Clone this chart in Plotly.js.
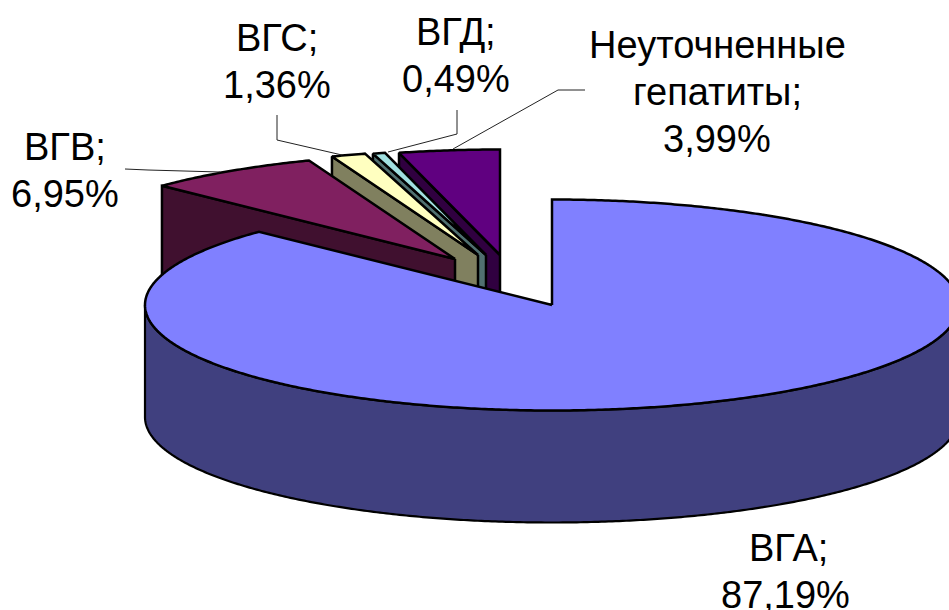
<!DOCTYPE html>
<html>
<head>
<meta charset="utf-8">
<script src="https://cdn.plot.ly/plotly-3.0.1.min.js"></script>
<style>html,body{margin:0;padding:0;background:#fff}#chart{width:949px;height:610px}</style>
</head>
<body>
<div id="chart"></div>
<script>
// Share of hepatitis cases by type, in the order the slices run clockwise from 12 o'clock.
const names = ['ВГА', 'ВГВ', 'ВГС', 'ВГД', 'Неуточненные гепатиты'];
const shares = [87.19, 6.95, 1.36, 0.49, 3.99];

const topColors = ['#8080FF', '#802060', '#FFFFC0', '#A0E0E0', '#600080'];
const sideColors = ['#40407F', '#40102F', '#80805F', '#507070', '#300040'];

// Slice apex on the page: the first slice stays put, the others are pulled out towards the upper left.
const apexX = [552, 455, 478, 486, 500];
const apexY = [305, 259, 255, 255, 255];

// Tilted disc proportions.
const radiusX = 407;
const radiusY = 105.5;
const depth = 112;

// Label lines as [slice index, line text or null for the value, x, y].
const labelLines = [
  [0, 'ВГА;', 788, 548], [0, null, 785, 595],
  [1, 'ВГВ;', 65, 147], [1, null, 65, 194],
  [2, 'ВГС;', 277, 38], [2, null, 277, 85],
  [3, 'ВГД;', 456, 32], [3, null, 456, 79],
  [4, 'Неуточненные', 717, 45], [4, 'гепатиты;', 717, 92], [4, null, 717, 139]
];

// Leader polylines from labels to slices.
const leaderX = [[125, 148, 220], [277, 277, 342], [457, 457, 388], [585, 558, 453]];
const leaderY = [[169, 170, 172], [115, 140, 155], [110, 134, 152], [90, 90, 149]];

const total = shares.reduce((a, b) => a + b, 0);
const toRad = d => d * Math.PI / 180;

// Point on a slice's rim for a clockwise angle measured from the top of the disc.
const rim = (i, deg, drop) => [
  apexX[i] + radiusX * Math.sin(toRad(deg)),
  apexY[i] - radiusY * Math.cos(toRad(deg)) + drop
];

function arc(i, from, to, drop) {
  const n = Math.max(2, Math.ceil(Math.abs(to - from) * 2));
  const pts = [];
  for (let k = 0; k <= n; k++) pts.push(rim(i, from + (to - from) * k / n, drop));
  return pts;
}

function face(pts, color, width) {
  return {
    type: 'scatter', mode: 'lines', hoverinfo: 'skip', showlegend: false,
    x: pts.map(p => p[0]), y: pts.map(p => p[1]),
    fill: 'toself', fillcolor: color,
    line: {color: '#000', width: width, simplify: false, shape: 'linear'}
  };
}

const angles = [];
let running = 0;
shares.forEach(v => {
  const start = running;
  running += v / total * 360;
  angles.push([start, running]);
});

// Far slices are painted first so that nearer ones cover them.
const traces = [];
[4, 3, 2, 1].forEach(i => {
  const [a, b] = angles[i];
  const apex = [apexX[i], apexY[i]];
  const p = rim(i, a, 0);
  traces.push(face([apex, p, [p[0], p[1] + depth], [apex[0], apex[1] + depth], apex], sideColors[i], 2.5));
  traces.push(face([apex, ...arc(i, a, b, 0), apex], topColors[i], 2.5));
});

// The large slice: its outer wall runs along the front half of the rim.
const outer = arc(0, 90, 270, 0);
const lower = arc(0, 270, 90, depth);
traces.push(face([...outer, ...lower, outer[0]], sideColors[0], 2.2));
const apex0 = [apexX[0], apexY[0]];
traces.push(face([apex0, ...arc(0, angles[0][0], angles[0][1], 0), apex0], topColors[0], 2.5));

leaderX.forEach((xs, k) => traces.push({
  type: 'scatter', mode: 'lines', hoverinfo: 'skip', showlegend: false,
  x: xs, y: leaderY[k], line: {color: '#222', width: 1}
}));

const annotations = labelLines.map(([i, text, x, y]) => ({
  x, y, xref: 'x', yref: 'y', showarrow: false, xanchor: 'center', yanchor: 'middle',
  text: text === null ? shares[i].toFixed(2).replace('.', ',') + '%' : text,
  font: {family: '"Liberation Sans", Arial, sans-serif', size: 38, color: '#000'}
}));

Plotly.newPlot('chart', traces, {
  width: 949, height: 610,
  margin: {l: 0, r: 0, t: 0, b: 0},
  paper_bgcolor: '#fff', plot_bgcolor: '#fff',
  showlegend: false,
  xaxis: {range: [0, 949], visible: false, fixedrange: true},
  yaxis: {range: [610, 0], visible: false, fixedrange: true},
  annotations
}, {displayModeBar: false, staticPlot: true});
</script>
</body>
</html>
